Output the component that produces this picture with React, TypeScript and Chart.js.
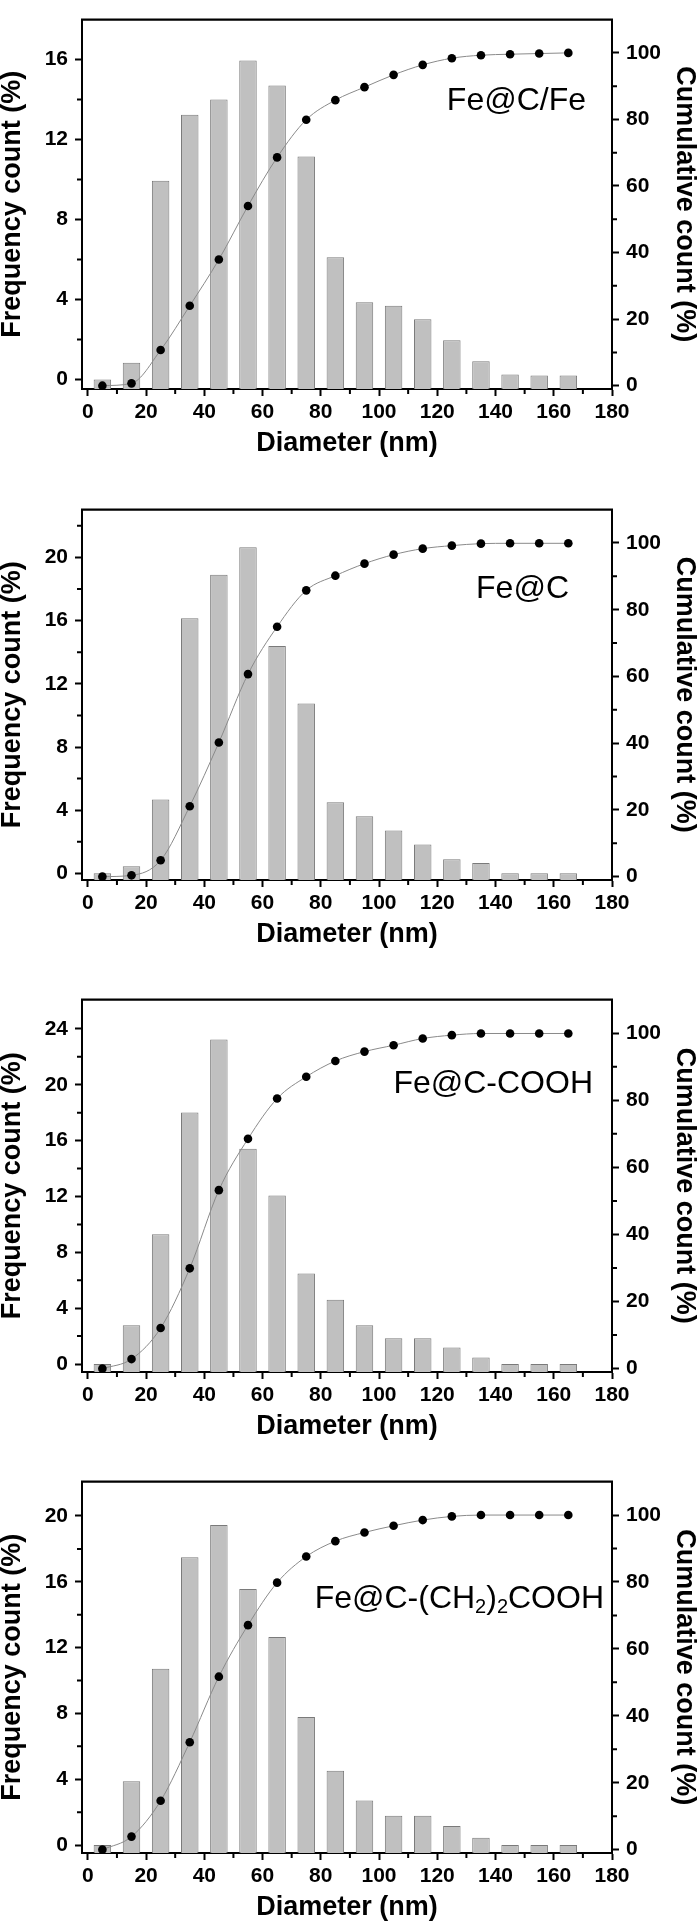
import React, { useEffect, useRef } from "react";
import { Chart, registerables } from "chart.js";

Chart.register(...registerables);

// ---------------- data ----------------
const diameters = [5, 15, 25, 35, 45, 55, 65, 75, 85, 95, 105, 115, 125, 135, 145, 155, 165];

const freqFeCFe = [0, 0.83, 9.94, 13.24, 14.0, 15.96, 14.7, 11.15, 6.11, 3.86, 3.68, 3.01, 1.96, 0.91, 0.24, 0.19, 0.19];
const cumFeCFe = [0, 0.7, 10.7, 24.0, 37.9, 54.0, 68.6, 79.9, 85.8, 89.7, 93.4, 96.4, 98.4, 99.3, 99.6, 99.8, 100];

const freqFeC = [0, 0.45, 4.68, 16.15, 18.9, 20.65, 14.4, 10.75, 4.5, 3.62, 2.72, 1.82, 0.9, 0.65, 0, 0, 0];
const cumFeC = [0, 0.4, 4.9, 21.1, 40.2, 60.7, 74.9, 85.8, 90.2, 93.8, 96.5, 98.3, 99.2, 99.8, 99.9, 99.9, 99.9];

const freqFeCCOOH = [0, 2.78, 9.29, 18.02, 23.25, 15.42, 12.07, 6.48, 4.61, 2.78, 1.85, 1.85, 1.19, 0.46, 0, 0, 0];
const cumFeCCOOH = [0, 2.85, 12.1, 29.9, 53.2, 68.5, 80.5, 87.0, 91.7, 94.5, 96.4, 98.4, 99.4, 99.9, 99.9, 99.9, 99.9];

const freqFeCCH2 = [0, 3.88, 10.72, 17.5, 19.46, 15.56, 12.64, 7.79, 4.52, 2.71, 1.78, 1.78, 1.16, 0.45, 0, 0, 0];
const cumFeCCH2 = [0, 3.9, 14.6, 32.1, 51.7, 67.1, 79.8, 87.6, 92.2, 94.8, 96.8, 98.5, 99.6, 100, 100, 100, 100];

const sampleNames = ["Fe@C/Fe", "Fe@C", "Fe@C-COOH", "Fe@C-(CH₂)₂COOH"];

const xMajorTicks = [0, 20, 40, 60, 80, 100, 120, 140, 160, 180];
const xMinorTicks = [10, 30, 50, 70, 90, 110, 130, 150, 170];
const cumMajorTicks = [0, 20, 40, 60, 80, 100];
const cumMinorTicks = [10, 30, 50, 70, 90];
const freqMajor1 = [0, 4, 8, 12, 16];
const freqMinor1 = [2, 6, 10, 14];
const freqMajor2 = [0, 4, 8, 12, 16, 20];
const freqMinor2 = [2, 6, 10, 14, 18, 22];
const freqMajor3 = [0, 4, 8, 12, 16, 20, 24];
const freqMinor3 = [2, 6, 10, 14, 18, 22];
const freqMajor4 = [0, 4, 8, 12, 16, 20];
const freqMinor4 = [2, 6, 10, 14, 18];

// ---------------- layout ----------------
const PAD_TOP = 3;
const X_AXIS_H = 78;
const LEFT_W = 82;
const RIGHT_W = 87;
const FONT_FAMILY = '"Liberation Sans", Arial, Helvetica, sans-serif';

const panels = [
  { freq: freqFeCFe, cum: cumFeCFe, name: sampleNames[0], yMin: -0.48, yMax: 18.0, major: freqMajor1, minor: freqMinor1, plotTop: 3, plotBottom: 389, labelRight: 586, labelDy: 79 },
  { freq: freqFeC, cum: cumFeC, name: sampleNames[1], yMin: -0.42, yMax: 23.03, major: freqMajor2, minor: freqMinor2, plotTop: 493, plotBottom: 880, labelRight: 569, labelDy: 76.5 },
  { freq: freqFeCCOOH, cum: cumFeCCOOH, name: sampleNames[2], yMin: -0.57, yMax: 26.1, major: freqMajor3, minor: freqMinor3, plotTop: 983, plotBottom: 1372, labelRight: 593, labelDy: 82 },
  { freq: freqFeCCH2, cum: cumFeCCH2, name: sampleNames[3], yMin: -0.48, yMax: 22.09, major: freqMajor4, minor: freqMinor4, plotTop: 1465, plotBottom: 1853, labelRight: 604, labelDy: 115 },
];

function drawName(ctx: CanvasRenderingContext2D, name: string, right: number, cy: number) {
  const mainFont = `32px ${FONT_FAMILY}`;
  const subFont = `20px ${FONT_FAMILY}`;
  const parts: { t: string; sub: boolean }[] = [];
  for (const ch of name) {
    const isSub = ch === "₂";
    const t = isSub ? "2" : ch;
    const last = parts[parts.length - 1];
    if (last && last.sub === isSub) last.t += t;
    else parts.push({ t, sub: isSub });
  }
  ctx.textBaseline = "alphabetic";
  ctx.textAlign = "left";
  ctx.fillStyle = "#000";
  const widths = parts.map((p) => {
    ctx.font = p.sub ? subFont : mainFont;
    return ctx.measureText(p.t).width;
  });
  const total = widths.reduce((a, b) => a + b, 0);
  let x = right - total;
  const baseY = cy + 0.358 * 32;
  parts.forEach((p, i) => {
    ctx.font = p.sub ? subFont : mainFont;
    ctx.fillText(p.t, x, p.sub ? baseY + 5 : baseY);
    x += widths[i];
  });
}

function Panel({ p }: { p: (typeof panels)[number] }) {
  const ref = useRef<HTMLCanvasElement | null>(null);

  useEffect(() => {
    if (!ref.current) return;
    const tickFont = { family: FONT_FAMILY, size: 21, weight: "bold" as const };
    const axisTitleFont = (lh: number) => ({ family: FONT_FAMILY, size: 27, weight: "bold" as const, lineHeight: lh });

    const deco = {
      id: "deco",
      afterDraw(chart: any) {
        const ctx = chart.ctx as CanvasRenderingContext2D;
        const { left, right, top, bottom } = chart.chartArea;
        const sx = chart.scales.x;
        const sy = chart.scales.y;
        const sy2 = chart.scales.y2;
        ctx.save();
        ctx.strokeStyle = "#000";
        ctx.lineWidth = 2.4;
        ctx.beginPath();
        ctx.moveTo(left - 1, top);
        ctx.lineTo(right + 1, top);
        ctx.stroke();
        ctx.lineWidth = 2;
        ctx.beginPath();
        xMinorTicks.forEach((v) => {
          const px = sx.getPixelForValue(v);
          ctx.moveTo(px, bottom);
          ctx.lineTo(px, bottom + 5);
        });
        p.minor.forEach((v) => {
          const py = sy.getPixelForValue(v);
          ctx.moveTo(left, py);
          ctx.lineTo(left - 5, py);
        });
        cumMinorTicks.forEach((v) => {
          const py = sy2.getPixelForValue(v);
          ctx.moveTo(right, py);
          ctx.lineTo(right + 5, py);
        });
        ctx.stroke();
        drawName(ctx, p.name, p.labelRight, top + p.labelDy);
        ctx.restore();
      },
    };

    const chart = new Chart(ref.current, {
      type: "bar",
      data: {
        datasets: [
          {
            type: "line",
            data: diameters.map((d, i) => ({ x: d, y: p.cum[i] })),
            yAxisID: "y2",
            borderColor: "#8a8a8a",
            borderWidth: 1,
            tension: 0.4,
            cubicInterpolationMode: "monotone",
            pointRadius: 4.3,
            pointBackgroundColor: "#000",
            pointBorderColor: "#000",
            pointBorderWidth: 0,
            order: 0,
          } as any,
          {
            type: "bar",
            data: diameters.map((d, i) => ({ x: d, y: p.freq[i] })),
            yAxisID: "y",
            backgroundColor: "#c0c0c0",
            borderColor: "#7a7a7a",
            borderWidth: 1,
            barPercentage: 0.6,
            categoryPercentage: 1,
            base: p.yMin,
            order: 1,
          } as any,
        ],
      },
      options: {
        animation: false,
        responsive: true,
        maintainAspectRatio: false,
        layout: { padding: { top: PAD_TOP, left: 0, right: 0, bottom: 0 } },
        plugins: { legend: { display: false }, tooltip: { enabled: false } },
        scales: {
          x: {
            type: "linear",
            min: -2,
            max: 180,
            offset: false,
            afterBuildTicks: (s: any) => {
              s.ticks = xMajorTicks.map((v) => ({ value: v }));
            },
            afterFit: (s: any) => {
              s.height = X_AXIS_H;
            },
            ticks: { font: tickFont, color: "#000", padding: 4, autoSkip: false, maxRotation: 0 },
            grid: { display: true, drawOnChartArea: false, drawTicks: true, tickLength: 7, tickWidth: 2, tickColor: "#000", offset: false },
            border: { display: true, color: "#000", width: 2 },
            title: { display: true, text: "Diameter (nm)", color: "#000", font: axisTitleFont(1.2), padding: { top: 0, bottom: 7 } },
          },
          y: {
            type: "linear",
            position: "left",
            min: p.yMin,
            max: p.yMax,
            afterBuildTicks: (s: any) => {
              s.ticks = p.major.map((v) => ({ value: v }));
            },
            afterFit: (s: any) => {
              s.width = LEFT_W;
            },
            ticks: { font: tickFont, color: "#000", padding: 7 },
            grid: { display: true, drawOnChartArea: false, drawTicks: true, tickLength: 7, tickWidth: 2, tickColor: "#000" },
            border: { display: true, color: "#000", width: 2 },
            title: { display: true, text: "Frequency count (%)", color: "#000", font: axisTitleFont(0.926), padding: 0 },
          },
          y2: {
            type: "linear",
            position: "right",
            min: -1,
            max: 110,
            afterBuildTicks: (s: any) => {
              s.ticks = cumMajorTicks.map((v) => ({ value: v }));
            },
            afterFit: (s: any) => {
              s.width = RIGHT_W;
            },
            ticks: { font: tickFont, color: "#000", padding: 7 },
            grid: { display: true, drawOnChartArea: false, drawTicks: true, tickLength: 7, tickWidth: 2, tickColor: "#000" },
            border: { display: true, color: "#000", width: 2 },
            title: { display: true, text: "Cumulative count (%)", color: "#000", font: axisTitleFont(1.1), padding: 0 },
          },
        },
      } as any,
      plugins: [deco],
    });
    return () => chart.destroy();
  }, [p]);

  const height = p.plotBottom - p.plotTop + PAD_TOP + X_AXIS_H;
  return (
    <div style={{ position: "absolute", left: 0, top: p.plotTop - PAD_TOP, width: 699, height }}>
      <canvas ref={ref} />
    </div>
  );
}

export default function App() {
  return (
    <div style={{ position: "absolute", left: 0, top: 0, width: 699, height: 1928, overflow: "hidden", background: "#fff" }}>
      {panels.map((p, i) => (
        <Panel key={i} p={p} />
      ))}
    </div>
  );
}
